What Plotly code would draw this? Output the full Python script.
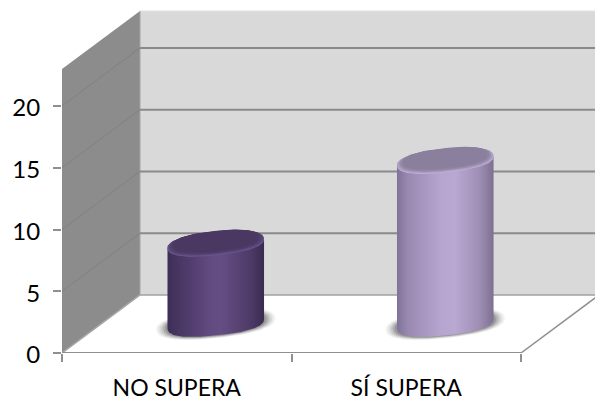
import numpy as np
import plotly.graph_objects as go

# Chart data
categories = ["NO SUPERA", "SÍ SUPERA"]
values = [6.5, 13.2]
y_ticks = [0, 5, 10, 15, 20]

# Oblique projection of the box: going from front to back moves a point
# by this much in axis units
DEPTH_X = 0.34
DEPTH_Y = 4.7
Y_TOP = 23

WIDTH, HEIGHT = 595, 401
LEFT, BOTTOM = 62, 48
PX_PER_CAT = 229.5
PX_PER_UNIT = 12.35

# Cylinder cross-section, in screen pixels
HALF_W = 48.5
HALF_H = 11.5
TILT = np.radians(6)
ROUNDNESS = 2.4

SIDE_SCALES = [
    [[0, "#3d2e56"], [0.12, "#483663"], [0.45, "#624b80"], [0.55, "#654e84"],
     [0.85, "#4f3b69"], [1, "#3a2b50"]],
    [[0, "#7f7297"], [0.12, "#9a8ab2"], [0.45, "#b6a5cf"], [0.6, "#b9a8d2"],
     [0.85, "#9f8fb6"], [1, "#7d7091"]],
]
CAP_RAMPS = [
    ["#6d5790", "#5c4779", "#51406d", "#4c3a65", "#4a3862"],
    ["#bfafd6", "#ab9cc2", "#9a8dac", "#8f83a2", "#8b7f9e"],
]

fig = go.Figure()


def project(x, v, d):
    """Map a point (category position, value, depth fraction) onto the axes."""
    return x + d * DEPTH_X, v + d * DEPTH_Y


def polygon(points, color):
    xs = [p[0] for p in points] + [points[0][0]]
    ys = [p[1] for p in points] + [points[0][1]]
    fig.add_trace(go.Scatter(x=xs, y=ys, mode="lines", fill="toself", fillcolor=color,
                             line=dict(width=0), hoverinfo="skip", showlegend=False))


def segment(p0, p1, color, width):
    fig.add_trace(go.Scatter(x=[p0[0], p1[0]], y=[p0[1], p1[1]], mode="lines",
                             line=dict(color=color, width=width),
                             hoverinfo="skip", showlegend=False))


def ring(cx, value, scale=1.0, lift=0.0, n=180):
    """Cylinder cross-section at a given height, centred mid-way through the depth."""
    t = np.linspace(0, 2 * np.pi, n, endpoint=False)
    power = 2 / ROUNDNESS
    c, s = np.cos(t), np.sin(t)
    u = scale * HALF_W * np.sign(c) * np.abs(c) ** power
    w = scale * HALF_H * np.sign(s) * np.abs(s) ** power
    dx = u * np.cos(TILT) - w * np.sin(TILT)
    dy = u * np.sin(TILT) + w * np.cos(TILT) + lift
    x0, y0 = project(cx, value, 0.5)
    return list(zip(x0 + dx / PX_PER_CAT, y0 + dy / PX_PER_UNIT))


# Walls and floor
X_END = 3.0
polygon([project(0, 0, 1), project(X_END, 0, 1), project(X_END, Y_TOP, 1), project(0, Y_TOP, 1)], "#d9d9d9")
polygon([project(0, 0, 0), project(0, 0, 1), project(0, Y_TOP, 1), project(0, Y_TOP, 0)], "#8c8c8c")
segment(project(0, 0, 1), project(0, Y_TOP, 1), "#a6a6a6", 1)
segment(project(0, Y_TOP, 1), project(X_END, Y_TOP, 1), "#e6e6e6", 1)

# Gridlines across both walls
for v in y_ticks[1:]:
    segment(project(0, v, 0), project(0, v, 1), "#808080", 1)
    segment(project(0, v, 1), project(X_END, v, 1), "#8a8a8a", 2)
segment(project(0, 0, 0), project(0, 0, 1), "#a6a6a6", 1.5)
segment(project(0, 0, 1), project(X_END, 0, 1), "#a0a0a0", 1.5)

# Floor outline
segment(project(0, 0, 0), project(2, 0, 0), "#8f8f8f", 2)
segment(project(2, 0, 0), project(2, 0, 1), "#8f8f8f", 1.5)

# Cylinders
for i, value in enumerate(values):
    cx = i + 0.5

    # Soft contact shadow under the base
    for scale, alpha in [(1.24, 0.05), (1.21, 0.07), (1.17, 0.1), (1.13, 0.14), (1.09, 0.18), (1.05, 0.26)]:
        polygon(ring(cx, 0, scale=scale), f"rgba(80,80,80,{alpha})")

    # Side wall: lower half of the base joined with the upper half of the cap
    base = ring(cx, 0)
    top = ring(cx, value)
    count = len(base)
    left_i = int(np.argmin([p[0] for p in base]))
    right_i = int(np.argmax([p[0] for p in base]))
    lower = [base[(right_i - k) % count] for k in range((right_i - left_i) % count + 1)]
    upper = [top[(left_i - k) % count] for k in range((left_i - right_i) % count + 1)]
    outline = lower + upper
    fig.add_trace(go.Scatter(
        x=[p[0] for p in outline] + [outline[0][0]],
        y=[p[1] for p in outline] + [outline[0][1]],
        mode="lines", line=dict(width=0), fill="toself",
        fillgradient=dict(type="horizontal", colorscale=SIDE_SCALES[i]),
        hoverinfo="skip", showlegend=False))

    # Bevelled cap: concentric outlines from the light rim to the flat centre
    ramp = CAP_RAMPS[i]
    for k, scale in enumerate([1.0, 0.985, 0.95, 0.91, 0.87]):
        polygon(ring(cx, value, scale=scale, lift=0.7 * k), ramp[k])

fig.update_layout(
    width=WIDTH, height=HEIGHT,
    margin=dict(l=LEFT, r=0, t=0, b=BOTTOM, pad=0),
    paper_bgcolor="white", plot_bgcolor="white",
    font=dict(family="Lato", size=23, color="#000000"),
    showlegend=False,
    xaxis=dict(
        range=[0, (WIDTH - LEFT) / PX_PER_CAT],
        tickvals=[0.5, 1.5], ticktext=categories,
        ticks="", showgrid=False, zeroline=False, showline=False,
        ticklabelstandoff=19,
        minor=dict(ticks="outside", ticklen=8, tickwidth=1.5, tickcolor="#8f8f8f",
                   tick0=0, dtick=1, showgrid=False),
    ),
    yaxis=dict(
        range=[0, (HEIGHT - BOTTOM) / PX_PER_UNIT],
        tickvals=y_ticks, ticks="outside", ticklen=8, tickwidth=1.5, tickcolor="#8f8f8f",
        tickfont=dict(size=24),
        showgrid=False, zeroline=False, showline=False,
        ticklabelstandoff=8, ticklabelshift=2,
    ),
)

fig.write_html("out.html")
